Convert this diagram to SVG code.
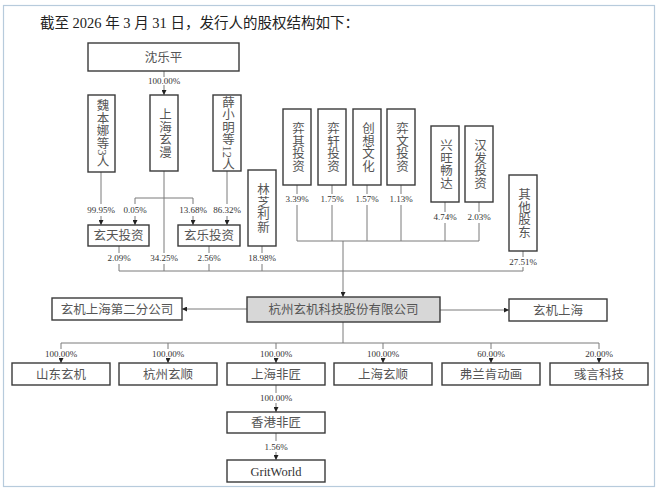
<svg xmlns="http://www.w3.org/2000/svg" width="661" height="493" viewBox="0 0 661 493">
<style>
.frame{fill:#fff;stroke:#b7cbdc;stroke-width:1.2}
.box{fill:#fff;stroke:#3a3a3a;stroke-width:1.4}
.main{fill:#d7d7d7;stroke:#3a3a3a;stroke-width:1.4}
.t{font-family:"Liberation Serif","Noto Sans CJK SC",serif;font-size:12.5px;fill:#555;text-anchor:middle}
.v{writing-mode:vertical-rl;dominant-baseline:central}
.p{font-family:"Liberation Serif","Noto Sans CJK SC",serif;font-size:9px;fill:#333;text-anchor:middle}
.title{font-family:"Liberation Serif","Noto Sans CJK SC",serif;font-size:14.5px;fill:#222}
.ln{fill:none;stroke:#7a7a7a;stroke-width:1}
.ar{marker-end:url(#ah)}
</style>
<defs>
<marker id="ah" viewBox="0 0 6 6" refX="6" refY="3" markerWidth="5" markerHeight="5" orient="auto"><path d="M0,0 L6,3 L0,6 z" fill="#222"/></marker>
</defs>
<rect class="frame" x="3.5" y="5.5" width="651" height="481"/>
<text class="title" x="40" y="28">截至 2026 年 3 月 31 日，发行人的股权结构如下：</text>

<g id="connectors">
<path class="ln" d="M164,71 V77"/>
<path class="ln ar" d="M164,85 V95"/>
<path class="ln" d="M101,172 V204"/>
<path class="ln ar" d="M101,216 V225"/>
<path class="ln" d="M164,171 V253 M164,264 V271 M135,198 H193 M135,198 V204 M193,198 V204"/>
<path class="ln ar" d="M135,216 V225"/>
<path class="ln ar" d="M193,216 V225"/>
<path class="ln" d="M227,171 V204"/>
<path class="ln ar" d="M227,216 V225"/>
<path class="ln" d="M119,246 V253 M119,264 V271 M209,246 V253 M209,264 V271 M262,246 V253 M262,264 V271 M119,271 H523"/>
<path class="ln" d="M297,185 V194 M297,205 V241 M332,185 V194 M332,205 V241 M367,185 V194 M367,205 V241 M401,185 V194 M401,205 V241 M445,202 V212 M445,223 V241 M479,202 V212 M479,223 V241 M297,241 H479"/>
<path class="ln" d="M523,251 V257 M523,267 V271"/>
<path class="ln ar" d="M343,241 V297"/>
<path class="ln ar" d="M247,309 H182"/>
<path class="ln ar" d="M440,310 H509"/>
<path class="ln" d="M343,322 V343 M61,343 H599 M61,343 V349 M168,343 V349 M276,343 V349 M383,343 V349 M491,343 V349 M599,343 V349"/>
<path class="ln ar" d="M61,358 V363"/>
<path class="ln ar" d="M168,358 V363"/>
<path class="ln ar" d="M276,358 V363"/>
<path class="ln ar" d="M383,358 V363"/>
<path class="ln ar" d="M491,358 V363"/>
<path class="ln ar" d="M599,358 V363"/>
<path class="ln" d="M276,385 V393"/>
<path class="ln ar" d="M276,403 V412"/>
<path class="ln" d="M276,433 V441"/>
<path class="ln ar" d="M276,452 V460"/>
</g>

<g id="labels">
<text class="p" x="164" y="84">100.00%</text>
<text class="p" x="101" y="213">99.95%</text>
<text class="p" x="135" y="213">0.05%</text>
<text class="p" x="193" y="213">13.68%</text>
<text class="p" x="227" y="213">86.32%</text>
<text class="p" x="119" y="261">2.09%</text>
<text class="p" x="164" y="261">34.25%</text>
<text class="p" x="209" y="261">2.56%</text>
<text class="p" x="262" y="261">18.98%</text>
<text class="p" x="297" y="202">3.39%</text>
<text class="p" x="332" y="202">1.75%</text>
<text class="p" x="367" y="202">1.57%</text>
<text class="p" x="401" y="202">1.13%</text>
<text class="p" x="445" y="220">4.74%</text>
<text class="p" x="479" y="220">2.03%</text>
<text class="p" x="523" y="265">27.51%</text>
<text class="p" x="61" y="357">100.00%</text>
<text class="p" x="168" y="357">100.00%</text>
<text class="p" x="276" y="357">100.00%</text>
<text class="p" x="383" y="357">100.00%</text>
<text class="p" x="491" y="357">60.00%</text>
<text class="p" x="599" y="357">20.00%</text>
<text class="p" x="276" y="401">100.00%</text>
<text class="p" x="276" y="450">1.56%</text>
</g>

<g id="n-shenleping"><rect class="box" x="88" y="43" width="151" height="28"/><text class="t" x="163.5" y="62">沈乐平</text></g>
<g id="n-weibenna"><rect class="box" x="88" y="95" width="27" height="77"/><text class="t v" x="101.5" y="133.5">魏本娜等3人</text></g>
<g id="n-shxuanman"><rect class="box" x="150" y="95" width="28" height="76"/><text class="t v" x="164" y="133">上海玄漫</text></g>
<g id="n-xuexiaoming"><rect class="box" x="213" y="95" width="28" height="76"/><text class="t v" x="227" y="133">薛小明等12人</text></g>
<g id="n-linzhi"><rect class="box" x="248" y="170" width="28" height="76"/><text class="t v" x="262" y="208">林芝利新</text></g>
<g id="n-yiqi"><rect class="box" x="283" y="109" width="28" height="76"/><text class="t v" x="297" y="147">弈其投资</text></g>
<g id="n-yixuan"><rect class="box" x="318" y="109" width="28" height="76"/><text class="t v" x="332" y="147">弈轩投资</text></g>
<g id="n-chuangxiang"><rect class="box" x="353" y="109" width="28" height="76"/><text class="t v" x="367" y="147">创想文化</text></g>
<g id="n-yiwen"><rect class="box" x="387" y="109" width="28" height="76"/><text class="t v" x="401" y="147">弈文投资</text></g>
<g id="n-xingwang"><rect class="box" x="431" y="126" width="28" height="76"/><text class="t v" x="445" y="164">兴旺畅达</text></g>
<g id="n-hanfa"><rect class="box" x="465" y="126" width="28" height="76"/><text class="t v" x="479" y="164">汉发投资</text></g>
<g id="n-others"><rect class="box" x="509" y="175" width="28" height="76"/><text class="t v" x="523" y="213">其他股东</text></g>
<g id="n-xuantian"><rect class="box" x="88" y="225" width="61" height="21"/><text class="t" x="118.5" y="240">玄天投资</text></g>
<g id="n-xuanle"><rect class="box" x="178" y="225" width="62" height="21"/><text class="t" x="209" y="240">玄乐投资</text></g>
<g id="n-main"><rect class="main" x="247" y="297" width="193" height="25"/><text class="t" x="343.5" y="314">杭州玄机科技股份有限公司</text></g>
<g id="n-branch2"><rect class="box" x="52" y="298" width="130" height="22"/><text class="t" x="117" y="313.5">玄机上海第二分公司</text></g>
<g id="n-xjsh"><rect class="box" x="509" y="299" width="98" height="22"/><text class="t" x="558" y="314.5">玄机上海</text></g>
<g id="n-shandong"><rect class="box" x="12" y="363" width="98" height="22"/><text class="t" x="61" y="378.5">山东玄机</text></g>
<g id="n-hzxuanshun"><rect class="box" x="119" y="363" width="98" height="22"/><text class="t" x="168" y="378.5">杭州玄顺</text></g>
<g id="n-shfeijiang"><rect class="box" x="227" y="363" width="98" height="22"/><text class="t" x="276" y="378.5">上海非匠</text></g>
<g id="n-shxuanshun"><rect class="box" x="334" y="363" width="98" height="22"/><text class="t" x="383" y="378.5">上海玄顺</text></g>
<g id="n-frank"><rect class="box" x="442" y="363" width="98" height="22"/><text class="t" x="491" y="378.5">弗兰肯动画</text></g>
<g id="n-yuyan"><rect class="box" x="550" y="363" width="98" height="22"/><text class="t" x="599" y="378.5">彧言科技</text></g>
<g id="n-hkfeijiang"><rect class="box" x="227" y="412" width="98" height="21"/><text class="t" x="276" y="427">香港非匠</text></g>
<g id="n-gritworld"><rect class="box" x="227" y="460" width="98" height="22"/><text class="t" x="276" y="475.5" style="fill:#333">GritWorld</text></g>
</svg>
